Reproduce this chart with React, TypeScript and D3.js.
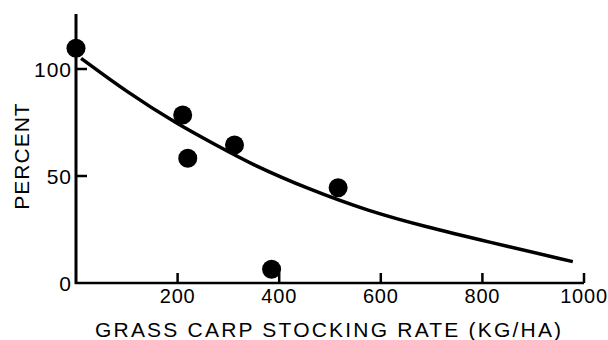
import React from "react";
import * as d3 from "d3";

// Observed data points (stocking rate kg/ha, percent)
const pointX = [0, 210, 220, 312, 385, 516];
const pointY = [109.7, 78.5, 58.3, 64.5, 6.4, 44.5];

// Fitted curve
const curveX = [10, 99, 197, 282, 341, 459, 576, 688, 805, 978];
const curveY = [105, 89.4, 74.6, 63.7, 56.0, 43.7, 33.6, 26.3, 19.6, 10.0];

const xTicks = [200, 400, 600, 800, 1000];
const yTicks = [0, 50, 100];

const W = 608;
const H = 340;

export default function App() {
  const x = d3.scaleLinear().domain([0, 1000]).range([76, 584]);
  const y = d3.scaleLinear().domain([0, 100]).range([283, 69]);

  const line = d3
    .line<[number, number]>()
    .x((d) => x(d[0]))
    .y((d) => y(d[1]))
    .curve(d3.curveBasis);
  const curvePts: [number, number][] = curveX.map((v, i) => [v, curveY[i]]);

  const font = "'Liberation Sans', Arial, Helvetica, sans-serif";

  return (
    <svg
      width={W}
      height={H}
      style={{ position: "absolute", left: 0, top: 0, background: "#fff" }}
      fontFamily={font}
    >
      {/* axes */}
      <line x1={x(0)} y1={14} x2={x(0)} y2={y(0) + 1} stroke="#000" strokeWidth={3} />
      <line x1={x(0) - 1} y1={y(0)} x2={x(1000)} y2={y(0)} stroke="#000" strokeWidth={2.5} />

      {/* x ticks */}
      {xTicks.map((t) => (
        <g key={"xt" + t}>
          <line x1={x(t)} y1={y(0)} x2={x(t)} y2={y(0) - 10} stroke="#000" strokeWidth={2.5} />
          <text
            x={x(t)}
            y={303}
            textAnchor="middle"
            fontSize={20}
            letterSpacing={0.8}
            fill="#000"
          >
            {t}
          </text>
        </g>
      ))}

      {/* y ticks */}
      {yTicks.map((t) => (
        <g key={"yt" + t}>
          {t > 0 && (
            <line x1={x(0)} y1={y(t)} x2={x(0) + 11} y2={y(t)} stroke="#000" strokeWidth={2.5} />
          )}
          <text
            x={72}
            y={y(t)}
            dy="0.36em"
            textAnchor="end"
            fontSize={21}
            letterSpacing={1}
            fill="#000"
          >
            {t}
          </text>
        </g>
      ))}

      {/* axis titles */}
      <text x={95} y={337} fontSize={21} letterSpacing={2.2} fill="#000">
        GRASS CARP STOCKING RATE (KG/HA)
      </text>
      <text
        transform="translate(29,156) rotate(-90)"
        textAnchor="middle"
        fontSize={21}
        letterSpacing={1}
        fill="#000"
      >
        PERCENT
      </text>

      {/* fitted curve */}
      <path d={line(curvePts) || ""} fill="none" stroke="#000" strokeWidth={3.5} />

      {/* points */}
      {pointX.map((v, i) => (
        <circle key={"p" + i} cx={x(v)} cy={y(pointY[i])} r={9.5} fill="#000" />
      ))}
    </svg>
  );
}
